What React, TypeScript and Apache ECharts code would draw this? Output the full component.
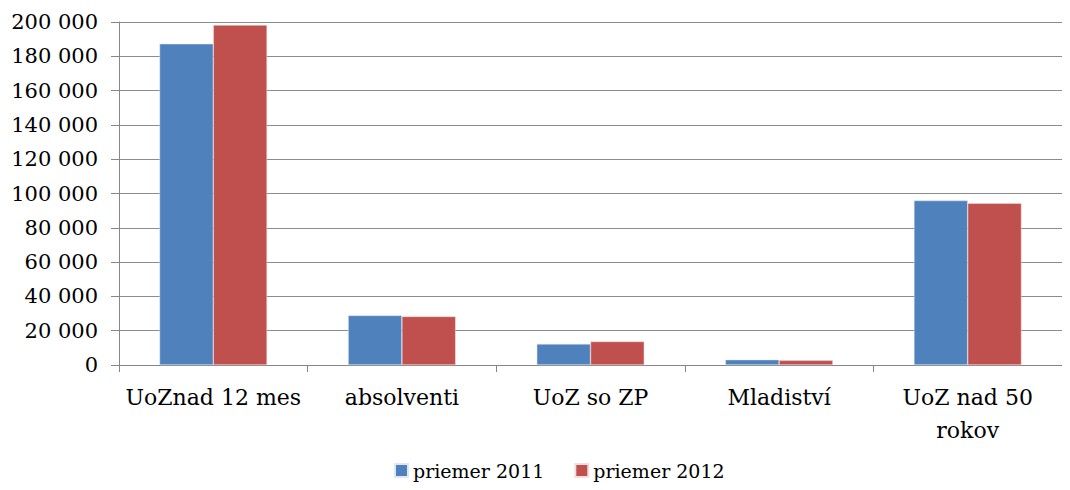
import React, { useEffect, useRef } from "react";
import * as echarts from "echarts";

const categories = ["UoZnad 12 mes", "absolventi", "UoZ so ZP", "Mladiství", "UoZ nad 50\nrokov"];
const series2011 = [187300, 28900, 12300, 3100, 95900];
const series2012 = [198200, 28300, 13700, 2700, 94300];
const seriesNames = ["priemer 2011", "priemer 2012"];

const FONT = "DejaVu Serif";

export default function App() {
  const ref = useRef<HTMLDivElement>(null);
  useEffect(() => {
    const chart = echarts.init(ref.current!, null, { renderer: "svg" });
    chart.setOption({
      animation: false,
      backgroundColor: "#ffffff",
      textStyle: { fontFamily: FONT, fontSize: 22 },
      grid: { left: 119, right: 8, top: 22, bottom: 125, containLabel: false },
      legend: {
        bottom: 5,
        left: 389,
        itemWidth: 13,
        itemHeight: 13,
        itemGap: 30,
        itemTextGap: 5,
        icon: "rect",
        textStyle: { fontFamily: FONT, fontSize: 19, color: "#000" },
        data: seriesNames,
      },
      xAxis: {
        type: "category",
        data: categories,
        axisLine: { lineStyle: { color: "#868686", width: 1 } },
        axisTick: { show: true, length: 7, lineStyle: { color: "#868686" }, alignWithLabel: false },
        axisLabel: {
          color: "#000",
          fontFamily: FONT,
          fontSize: 22,
          margin: 16,
          lineHeight: 33,
          interval: 0,
        },
      },
      yAxis: {
        type: "value",
        min: 0,
        max: 200000,
        interval: 20000,
        axisLine: { show: true, lineStyle: { color: "#868686", width: 1 } },
        axisTick: { show: true, length: 8, lineStyle: { color: "#868686" } },
        splitLine: { lineStyle: { color: "#8c8c8c", width: 1 } },
        axisLabel: {
          color: "#000",
          fontFamily: FONT,
          fontSize: 21,
          margin: 21,
          formatter: (v: number) =>
            v === 0 ? "0" : String(v).replace(/\B(?=(\d{3})+(?!\d))/g, " "),
        },
      },
      series: [
        {
          name: seriesNames[0],
          type: "bar",
          data: series2011,
          barGap: "0%",
          barCategoryGap: "43%",
          itemStyle: { color: "#4F81BD", borderColor: "#dfe7f2", borderWidth: 0.5 },
        },
        {
          name: seriesNames[1],
          type: "bar",
          data: series2012,
          barGap: "0%",
          barCategoryGap: "43%",
          itemStyle: { color: "#C0504D", borderColor: "#f2dede", borderWidth: 0.5 },
        },
      ],
    });
    return () => chart.dispose();
  }, []);
  return <div ref={ref} style={{ width: 1070, height: 490, margin: -8 }} />;
}
